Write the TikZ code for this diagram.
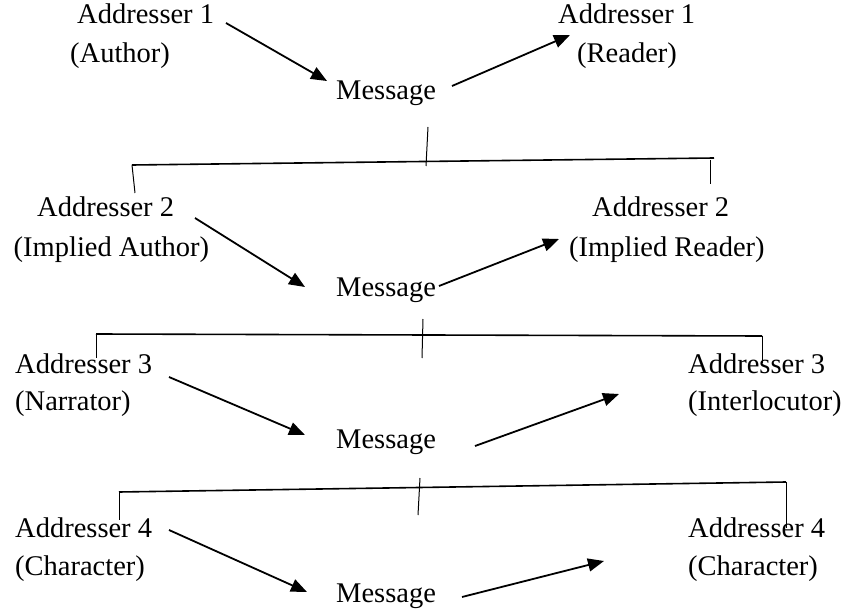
\documentclass[tikz,border=0pt]{standalone}
\usepackage{fontspec}
\setmainfont{Liberation Serif}
\usetikzlibrary{arrows.meta}
\begin{document}
\begin{tikzpicture}[x=1pt,y=-1pt,
  lbl/.style={anchor=base west,inner sep=0pt,font=\fontsize{28.5}{34}\selectfont},
  flow/.style={line width=1.8pt,-{Triangle[length=16pt,width=13pt]}},
  bar/.style={line width=1.6pt},
  tick/.style={line width=1pt}]
\useasboundingbox (0,0) rectangle (847,615);

% Level 1: author -> message -> reader
\node[lbl] (s1) at (77,24) {Addresser 1};
\node[lbl] (s1r) at (70,63) {(Author)};
\node[lbl] (m1) at (336,100) {Message};
\node[lbl] (r1) at (558,24) {Addresser 1};
\node[lbl] (r1r) at (577,63) {(Reader)};
\coordinate (a1s) at (226,23);  \coordinate (a1e) at (327,81);
\coordinate (b1s) at (452,86);  \coordinate (b1e) at (570,35);
\draw[flow] (a1s) -- (a1e);
\draw[flow] (b1s) -- (b1e);

% Bracket 1
\coordinate (t1a) at (428,127); \coordinate (t1b) at (426,166);
\coordinate (h1l) at (132,165); \coordinate (h1r) at (714,158);
\coordinate (h1ld) at (135,193); \coordinate (h1rd) at (710,184);
\coordinate (h1rt) at (710,160);
\draw[tick] (t1a) -- (t1b);
\draw[bar] (h1l) -- (h1r);
\draw[tick] (h1l) -- (h1ld);
\draw[tick] (h1rt) -- (h1rd);

% Level 2: implied author -> message -> implied reader
\node[lbl] (s2) at (37,217) {Addresser 2};
\node[lbl] (s2r) at (13.5,257) {(Implied Author)};
\node[lbl] (m2) at (336,296) {Message};
\node[lbl] (r2) at (592,217) {Addresser 2};
\node[lbl] (r2r) at (569,257) {(Implied Reader)};
\coordinate (a2s) at (195,218); \coordinate (a2e) at (305,287);
\coordinate (b2s) at (439,286); \coordinate (b2e) at (559,239);
\draw[flow] (a2s) -- (a2e);
\draw[flow] (b2s) -- (b2e);

% Bracket 2
\coordinate (t2a) at (423,319); \coordinate (t2b) at (422,358);
\coordinate (h2l) at (96,334);  \coordinate (h2r) at (762,336);
\coordinate (h2ld) at (96,358); \coordinate (h2rd) at (762,363);
\draw[tick] (t2a) -- (t2b);
\draw[bar] (h2l) -- (h2r);
\draw[tick] (h2l) -- (h2ld);
\draw[tick] (h2r) -- (h2rd);

% Level 3: narrator -> message -> interlocutor
\node[lbl] (s3) at (15,373) {Addresser 3};
\node[lbl] (s3r) at (15,410) {(Narrator)};
\node[lbl] (m3) at (336,448) {Message};
\node[lbl] (r3) at (688,373) {Addresser 3};
\node[lbl] (r3r) at (688,410) {(Interlocutor)};
\coordinate (a3s) at (169,377); \coordinate (a3e) at (305,435);
\coordinate (b3s) at (475,446); \coordinate (b3e) at (619,394);
\draw[flow] (a3s) -- (a3e);
\draw[flow] (b3s) -- (b3e);

% Bracket 3
\coordinate (t3a) at (420,478); \coordinate (t3b) at (418,515);
\coordinate (h3l) at (119,492); \coordinate (h3r) at (786,482);
\coordinate (h3ld) at (119,520); \coordinate (h3rd) at (786,528);
\draw[tick] (t3a) -- (t3b);
\draw[bar] (h3l) -- (h3r);
\draw[tick] (h3l) -- (h3ld);
\draw[tick] (h3r) -- (h3rd);

% Level 4: character -> message -> character
\node[lbl] (s4) at (15,537) {Addresser 4};
\node[lbl] (s4r) at (15,575) {(Character)};
\node[lbl] (m4) at (336,602) {Message};
\node[lbl] (r4) at (688,537) {Addresser 4};
\node[lbl] (r4r) at (688,575) {(Character)};
\coordinate (a4s) at (169,530); \coordinate (a4e) at (307,592);
\coordinate (b4s) at (462,597); \coordinate (b4e) at (604,561);
\draw[flow] (a4s) -- (a4e);
\draw[flow] (b4s) -- (b4e);
\end{tikzpicture}
\end{document}
